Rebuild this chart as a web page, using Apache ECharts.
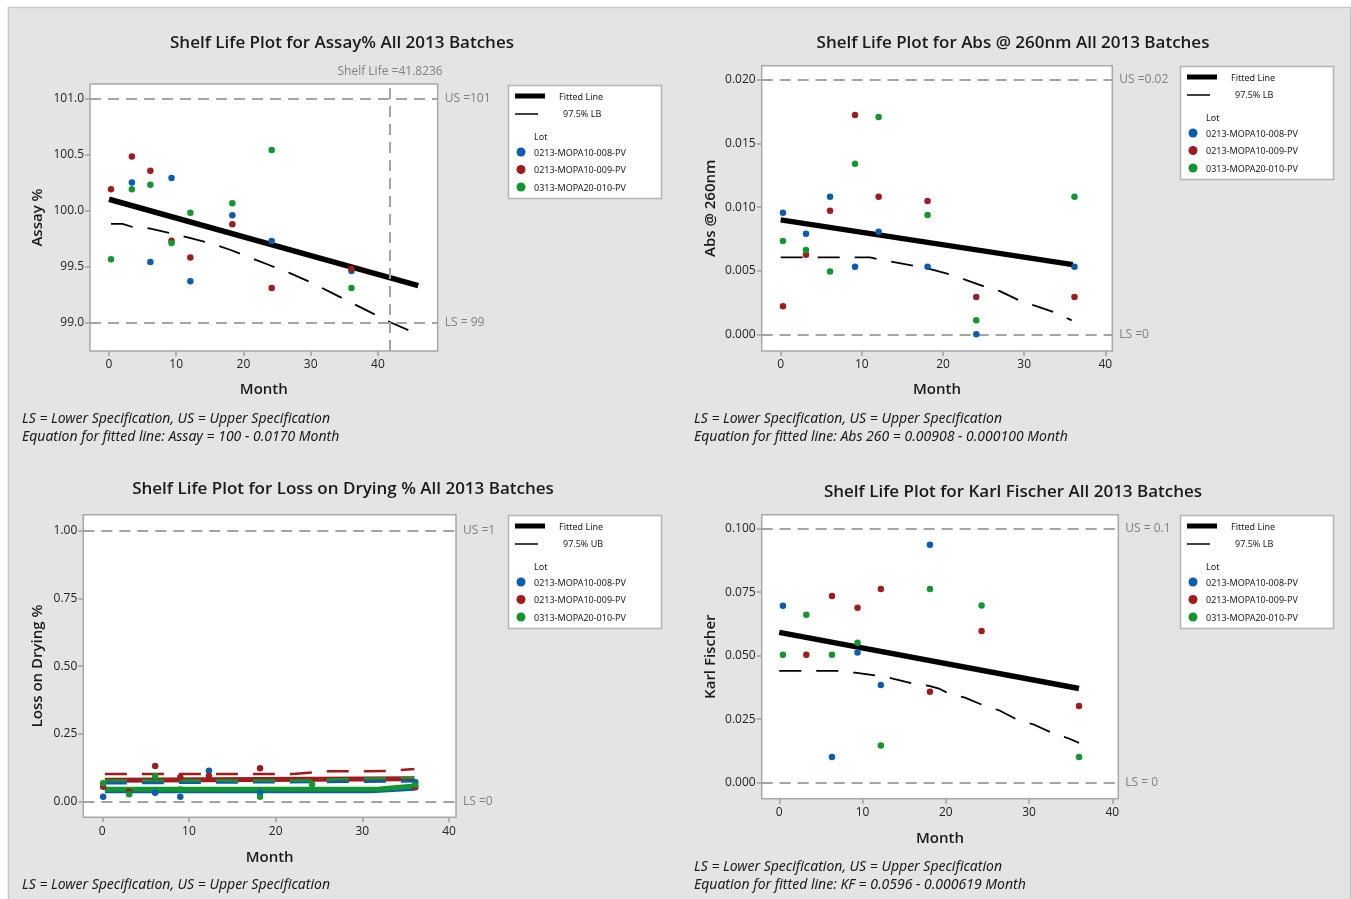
<!DOCTYPE html>
<html><head><meta charset="utf-8">
<script src="https://cdn.jsdelivr.net/npm/echarts@6/dist/echarts.min.js"></script>
<style>html,body{margin:0;padding:0;background:#fff}#c{width:1351px;height:899px}</style>
</head><body><div id="c"></div><script>
// ---------------- DATA ----------------
const lotNames = ['0213-MOPA10-008-PV', '0213-MOPA10-009-PV', '0313-MOPA20-010-PV'];
const monthTicks = [0, 10, 20, 30, 40];

// Assay %
const assayMonths = [0.3, 3.4, 6.15, 9.3, 12.1, 18.35, 24.2, 36.07];
const assay008 = [null, 100.25, 99.54, 100.29, 99.37, 99.957, 99.728, 99.46];
const assay009 = [100.19, 100.48, 100.355, 99.73, 99.58, 99.877, 99.31, 99.48];
const assay010 = [99.565, 100.19, 100.23, 99.71, 99.98, 100.064, 100.54, 99.31];
const assayFit = [[0, 100.10], [46, 99.33]];
const assayLB = [[0.3, 99.88], [2, 99.88], [3.4, 99.855], [6, 99.84], [9, 99.80], [12, 99.755], [15, 99.71], [18, 99.65], [21, 99.58], [24, 99.51], [27, 99.44], [30, 99.36], [33, 99.27], [36, 99.18], [39, 99.09], [42, 99.00], [44.7, 98.93]];
const assaySpecs = [99, 101];
const assayShelfLife = 41.8236;
const assayYTicks = [99.0, 99.5, 100.0, 100.5, 101.0];

// Abs @ 260nm
const absMonths = [0.28, 3.12, 6.08, 9.16, 12.07, 18.1, 24.1, 36.2];
const abs008 = [0.00956, 0.00791, 0.01082, 0.00532, 0.00807, 0.00532, 0.0000, 0.00532];
const abs009 = [0.0022, 0.00626, 0.00972, 0.01724, 0.01082, 0.01048, 0.00293, 0.00293];
const abs010 = [0.00734, 0.00663, 0.00495, 0.01342, 0.01709, 0.00938, 0.0011, 0.01082];
const absFit = [[0, 0.00900], [36, 0.00548]];
const absLB = [[0, 0.00605], [11, 0.00605], [12, 0.0059], [16.3, 0.0054], [18, 0.0052], [20.9, 0.0047], [22.7, 0.0043], [25.3, 0.0037], [27, 0.0034], [29.6, 0.0026], [31.3, 0.00225], [33.9, 0.0017], [35.85, 0.0011]];
const absSpecs = [0, 0.02];
const absYTicks = [0, 0.005, 0.010, 0.015, 0.020];

// Loss on Drying %
const lodMonths = [0.1, 3.1, 6.1, 9.0, 12.3, 18.2, 24.2, 36.1];
const lod008 = [0.018, null, 0.033, 0.018, 0.114, 0.033, null, 0.072];
const lod009 = [0.055, 0.037, 0.132, 0.090, 0.095, 0.123, null, 0.053];
const lod010 = [0.068, 0.027, 0.095, 0.045, null, 0.018, 0.064, 0.062];
const lodFit008 = [[0.3, 0.040], [31, 0.040], [36, 0.050]];
const lodFit009 = [[0.3, 0.079], [36, 0.085]];
const lodFit010 = [[0.3, 0.046], [32, 0.047], [36, 0.058]];
const lodUB008 = [[0.3, 0.068], [36, 0.075]];
const lodUB009 = [[0.3, 0.102], [22, 0.102], [26, 0.112], [33, 0.113], [36, 0.121]];
const lodUB010 = [[0.3, 0.078], [24, 0.078], [27, 0.083], [36, 0.088]];
const lodSpecs = [0, 1];
const lodYTicks = [0, 0.25, 0.5, 0.75, 1.0];

// Karl Fischer
const kfMonths = [0.44, 3.25, 6.33, 9.4, 12.2, 18.1, 24.3, 36.0];
const kf008 = [0.0697, null, 0.0101, 0.0513, 0.0385, 0.0937, null, null];
const kf009 = [null, 0.0504, 0.0735, 0.0689, 0.0763, 0.0358, 0.0597, 0.0302];
const kf010 = [0.0504, 0.0661, 0.0504, 0.0551, 0.0146, 0.0763, 0.0698, 0.0101];
const kfFit = [[0, 0.0592], [36, 0.0371]];
const kfLB = [[0, 0.0440], [7, 0.0440], [9.1, 0.0433], [11.9, 0.0421], [13.5, 0.0411], [16, 0.0391], [18, 0.0381], [19.3, 0.0369], [20.5, 0.0348], [22.3, 0.0335], [24.7, 0.0302], [26.4, 0.0285], [28.8, 0.0244], [30.5, 0.0230], [32.9, 0.0194], [34.7, 0.0175], [36, 0.0157]];
const kfSpecs = [0, 0.1];
const kfYTicks = [0, 0.025, 0.05, 0.075, 0.1];

// ---------------- STYLE ----------------
const lotColors = ['#0b5cad', '#9e1b1e', '#12962f'];
const SANS = '"Open Sans", "Noto Sans", sans-serif';
const NOTE = '"Noto Sans", "Open Sans", sans-serif';
const specColor = '#a3a3a3';
const specText = '#808080';

const grids = [
  {left: 90, top: 84, width: 347.7, height: 267},
  {left: 761.7, top: 65.7, width: 350.6, height: 285.3},
  {left: 83.3, top: 514.7, width: 372.7, height: 302.6},
  {left: 761.7, top: 514.7, width: 356.6, height: 284}
];
const ranges = [
  {x: [-2.83, 48.9], y: [98.748, 101.127], yt: assayYTicks, dec: 1, name: 'Assay %', gap: 45},
  {x: [-2.34, 40.86], y: [-0.00131, 0.02112], yt: absYTicks, dec: 3, name: 'Abs @ 260nm', gap: 43},
  {x: [-2.19, 40.8], y: [-0.0576, 1.059], yt: lodYTicks, dec: 2, name: 'Loss on Drying %', gap: 38},
  {x: [-2.11, 40.72], y: [-0.0063, 0.10551], yt: kfYTicks, dec: 3, name: 'Karl Fischer', gap: 43}
];
const xNameGaps = [31, 31, 33, 33];

function pairs(ms, vs) {
  const out = [];
  ms.forEach((m, i) => { if (vs[i] !== null) out.push([m, vs[i]]); });
  return out;
}

const xAxes = [], yAxes = [], series = [];
ranges.forEach((r, i) => {
  xAxes.push({
    gridIndex: i, type: 'value', min: r.x[0], max: r.x[1],
    name: 'Month', nameLocation: 'middle', nameGap: xNameGaps[i],
    nameTextStyle: {fontSize: 15, color: '#1a1a1a', fontFamily: SANS, fontWeight: 600},
    axisLine: {show: false, onZero: false},
    axisTick: {show: true, length: 5, lineStyle: {color: '#a0a0a0', width: 1.5}, customValues: monthTicks},
    axisLabel: {customValues: monthTicks, margin: 8, fontSize: 12, color: '#222', fontFamily: SANS},
    splitLine: {show: false}
  });
  yAxes.push({
    gridIndex: i, type: 'value', min: r.y[0], max: r.y[1],
    name: r.name, nameLocation: 'middle', nameGap: r.gap,
    nameTextStyle: {fontSize: 15, color: '#1a1a1a', fontFamily: SANS, fontWeight: 600},
    axisLine: {show: false, onZero: false},
    axisTick: {show: true, length: 5, lineStyle: {color: '#a0a0a0', width: 1.5}, customValues: r.yt},
    axisLabel: {customValues: r.yt, margin: 6, fontSize: 12, color: '#222', fontFamily: SANS,
      formatter: v => Number(v).toFixed(r.dec)},
    splitLine: {show: false}
  });
});

function specMark(specs, labels, extra) {
  const data = [
    {yAxis: specs[0], label: {formatter: labels[0]}},
    {yAxis: specs[1], label: {formatter: labels[1]}}
  ];
  if (extra) data.push(extra);
  return {
    silent: true, symbol: ['none', 'none'], animation: false,
    lineStyle: {type: [11, 7], color: specColor, width: 2},
    label: {position: 'end', color: specText, fontSize: 12, fontFamily: SANS, distance: 7},
    data: data
  };
}

function fitSeries(i, data, color, width, mark) {
  const s = {type: 'line', xAxisIndex: i, yAxisIndex: i, data: data, symbol: 'none', showSymbol: false,
    silent: true, animation: false, z: 3, lineStyle: {color: color, width: width, type: 'solid'}};
  if (mark) s.markLine = mark;
  return s;
}
function boundSeries(i, data, color, width) {
  return {type: 'line', xAxisIndex: i, yAxisIndex: i, data: data, symbol: 'none', showSymbol: false,
    silent: true, animation: false, z: 3, lineStyle: {color: color, width: width, type: [22, 15]}};
}
function lotScatter(i, ms, vs, k) {
  return {type: 'scatter', xAxisIndex: i, yAxisIndex: i, data: pairs(ms, vs), symbolSize: 6.5,
    silent: true, animation: false, z: 5, itemStyle: {color: lotColors[k], opacity: 1}};
}

// Assay
series.push(fitSeries(0, assayFit, '#000', 5.5, specMark(assaySpecs, ['LS = 99', 'US =101'],
  {xAxis: assayShelfLife, label: {formatter: 'Shelf Life =' + assayShelfLife, position: 'end', distance: 6}})));
series.push(boundSeries(0, assayLB, '#000', 1.8));
[assay008, assay009, assay010].forEach((v, k) => series.push(lotScatter(0, assayMonths, v, k)));
// Abs
series.push(fitSeries(1, absFit, '#000', 5.5, specMark(absSpecs, ['LS =0', 'US =0.02'])));
series.push(boundSeries(1, absLB, '#000', 1.8));
[abs008, abs009, abs010].forEach((v, k) => series.push(lotScatter(1, absMonths, v, k)));
// LOD
series.push(fitSeries(2, lodFit008, lotColors[0], 5, specMark(lodSpecs, ['LS =0', 'US =1'])));
series.push(fitSeries(2, lodFit010, lotColors[2], 5));
series.push(fitSeries(2, lodFit009, lotColors[1], 5));
series.push(boundSeries(2, lodUB008, lotColors[0], 2.5));
series.push(boundSeries(2, lodUB010, lotColors[2], 2.5));
series.push(boundSeries(2, lodUB009, lotColors[1], 2.5));
[lod008, lod009, lod010].forEach((v, k) => series.push(lotScatter(2, lodMonths, v, k)));
// KF
series.push(fitSeries(3, kfFit, '#000', 5.5, specMark(kfSpecs, ['LS = 0', 'US = 0.1'])));
series.push(boundSeries(3, kfLB, '#000', 1.8));
[kf008, kf009, kf010].forEach((v, k) => series.push(lotScatter(3, kfMonths, v, k)));

// ---------------- TEXT / LEGENDS ----------------
function txt(x, y, text, font, fill, align) {
  return {type: 'text', x: x, y: y, silent: true,
    style: {text: text, font: font, fill: fill || '#1a1a1a', textAlign: align || 'left', align: align || 'left',
      textVerticalAlign: 'middle', verticalAlign: 'middle'}};
}
const legFont = '9px ' + NOTE;
function legendBox(x0, y0, boundLabel) {
  const els = [
    {type: 'rect', shape: {x: x0 + 0.5, y: y0 + 0.5, width: 153, height: 113}, style: {fill: '#fff', stroke: '#b4b4b4', lineWidth: 1.5}, silent: true},
    {type: 'line', shape: {x1: x0 + 7, y1: y0 + 11, x2: x0 + 37, y2: y0 + 11}, style: {stroke: '#000', lineWidth: 5}, silent: true},
    txt(x0 + 51, y0 + 12, 'Fitted Line', legFont),
    {type: 'line', shape: {x1: x0 + 7, y1: y0 + 29, x2: x0 + 30, y2: y0 + 29}, style: {stroke: '#000', lineWidth: 1.5}, silent: true},
    txt(x0 + 55, y0 + 29, boundLabel, legFont),
    txt(x0 + 26, y0 + 52, 'Lot', legFont)
  ];
  lotNames.forEach((n, k) => {
    const cy = y0 + 67 + k * 17.5;
    els.push({type: 'circle', shape: {cx: x0 + 13, cy: cy, r: 4.5}, style: {fill: lotColors[k]}, silent: true});
    els.push(txt(x0 + 26, cy + 1, n, legFont));
  });
  return els;
}
const titleFont = '600 17px ' + SANS;
const noteFont = 'italic 14px ' + NOTE;
const graphics = [
  {type: 'rect', z: -10, shape: {x: 8.5, y: 7.5, width: 1342, height: 895}, style: {fill: '#e4e4e4', stroke: '#c8c8c8', lineWidth: 1.5}, silent: true},
  txt(342, 43, 'Shelf Life Plot for Assay% All 2013 Batches', titleFont, '#1a1a1a', 'center'),
  txt(1013, 43, 'Shelf Life Plot for Abs @ 260nm All 2013 Batches', titleFont, '#1a1a1a', 'center'),
  txt(343, 489, 'Shelf Life Plot for Loss on Drying % All 2013 Batches', titleFont, '#1a1a1a', 'center'),
  txt(1013, 492, 'Shelf Life Plot for Karl Fischer All 2013 Batches', titleFont, '#1a1a1a', 'center'),
  txt(22, 419, 'LS = Lower Specification, US = Upper Specification', noteFont),
  txt(22, 437, 'Equation for fitted line: Assay = 100 - 0.0170 Month', noteFont),
  txt(694, 419, 'LS = Lower Specification, US = Upper Specification', noteFont),
  txt(694, 437, 'Equation for fitted line: Abs 260 = 0.00908 - 0.000100 Month', noteFont),
  txt(22, 885, 'LS = Lower Specification, US = Upper Specification', noteFont),
  txt(694, 867, 'LS = Lower Specification, US = Upper Specification', noteFont),
  txt(694, 885, 'Equation for fitted line: KF = 0.0596 - 0.000619 Month', noteFont)
].concat(legendBox(508, 85, '97.5% LB'), legendBox(1180, 66, '97.5% LB'),
  legendBox(508, 515, '97.5% UB'), legendBox(1180, 515, '97.5% LB'));

const chart = echarts.init(document.getElementById('c'), null, {renderer: 'canvas'});
chart.setOption({
  backgroundColor: '#fff',
  animation: false,
  grid: grids.map(g => Object.assign({show: true, backgroundColor: '#fff', borderColor: '#a8a8a8', borderWidth: 1.5, containLabel: false}, g)),
  xAxis: xAxes,
  yAxis: yAxes,
  series: series,
  graphic: {elements: graphics}
});
</script></body></html>
